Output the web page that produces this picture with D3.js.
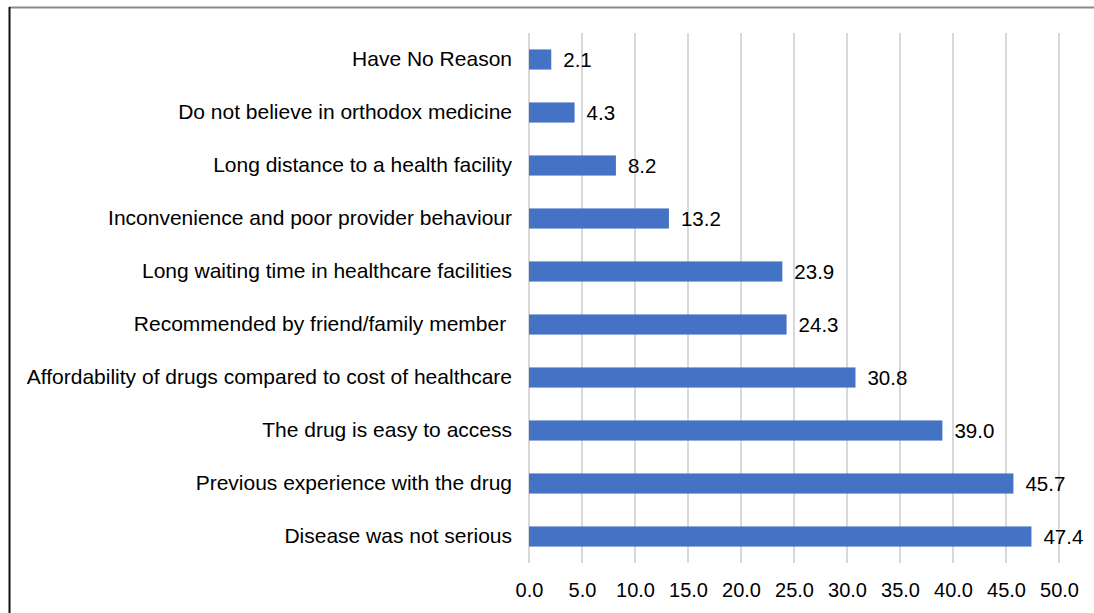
<!DOCTYPE html>
<html>
<head>
<meta charset="utf-8">
<script src="https://cdn.jsdelivr.net/npm/d3@7"></script>
<style>
  html, body { margin: 0; padding: 0; background: #fff; }
  svg { display: block; }
  text { font-family: "Liberation Sans", Arial, sans-serif; fill: #000; }
</style>
</head>
<body>
<svg id="chart" width="1094" height="613"></svg>
<script>
// Reasons for self-medication (%)
const categories = [
  "Have No Reason",
  "Do not believe in orthodox medicine",
  "Long distance to a health facility",
  "Inconvenience and poor provider behaviour",
  "Long waiting time in healthcare facilities",
  "Recommended by friend/family member ",
  "Affordability of drugs compared to cost of healthcare",
  "The drug is easy to access",
  "Previous experience with the drug",
  "Disease was not serious"
];
const values = [2.1, 4.3, 8.2, 13.2, 23.9, 24.3, 30.8, 39.0, 45.7, 47.4];
const xTicks = [0, 5, 10, 15, 20, 25, 30, 35, 40, 45, 50];

const W = 1094, H = 613;
const margin = { left: 529, right: 35, top: 33, bottom: 50 };
const svg = d3.select("#chart");

// frame edges
svg.append("line").attr("x1", 9).attr("x2", W).attr("y1", 7.5).attr("y2", 7.5)
  .attr("stroke", "#8a8a8a").attr("stroke-width", 2);
svg.append("line").attr("x1", 9.5).attr("x2", 9.5).attr("y1", 7).attr("y2", H)
  .attr("stroke", "#111").attr("stroke-width", 2);

const x = d3.scaleLinear().domain([0, 50]).range([margin.left, W - margin.right]);
const y = d3.scaleBand().domain(categories).range([margin.top, H - margin.bottom]).paddingInner(0.62).paddingOuter(0.31);

// vertical gridlines
svg.append("g").selectAll("line").data(xTicks).join("line")
  .attr("x1", d => x(d)).attr("x2", d => x(d))
  .attr("y1", margin.top).attr("y2", H - margin.bottom)
  .attr("stroke", "#d9d9d9").attr("stroke-width", 2);

// x axis tick labels
const xAxis = d3.axisBottom(x).tickValues(xTicks).tickFormat(d3.format(".1f")).tickSize(0).tickPadding(0);
const gx = svg.append("g").attr("transform", `translate(0,${H - margin.bottom + 27})`).call(xAxis);
gx.select(".domain").remove();
gx.selectAll("text").attr("font-size", 20).attr("dy", "0.35em").attr("y", 0)
  .style("font-family", "'Liberation Sans', Arial, sans-serif").attr("fill", "#000");

// bars
svg.append("g").selectAll("rect").data(values).join("rect")
  .attr("x", x(0))
  .attr("y", (d, i) => y(categories[i]))
  .attr("width", d => x(d) - x(0))
  .attr("height", y.bandwidth())
  .attr("fill", "#4472c4");

// value labels
svg.append("g").selectAll("text").data(values).join("text")
  .attr("x", d => x(d) + 12)
  .attr("y", (d, i) => y(categories[i]) + y.bandwidth() / 2)
  .attr("dy", "0.35em")
  .attr("font-size", 20.5)
  .text(d => d.toFixed(1));

// category labels
const yAxis = d3.axisLeft(y).tickSize(0).tickPadding(17);
const gy = svg.append("g").attr("transform", `translate(${x(0)},0)`).call(yAxis);
gy.select(".domain").remove();
gy.selectAll("text").attr("font-size", 21).attr("fill", "#000")
  .style("white-space", "pre")
  .style("font-family", "'Liberation Sans', Arial, sans-serif");
</script>
</body>
</html>
